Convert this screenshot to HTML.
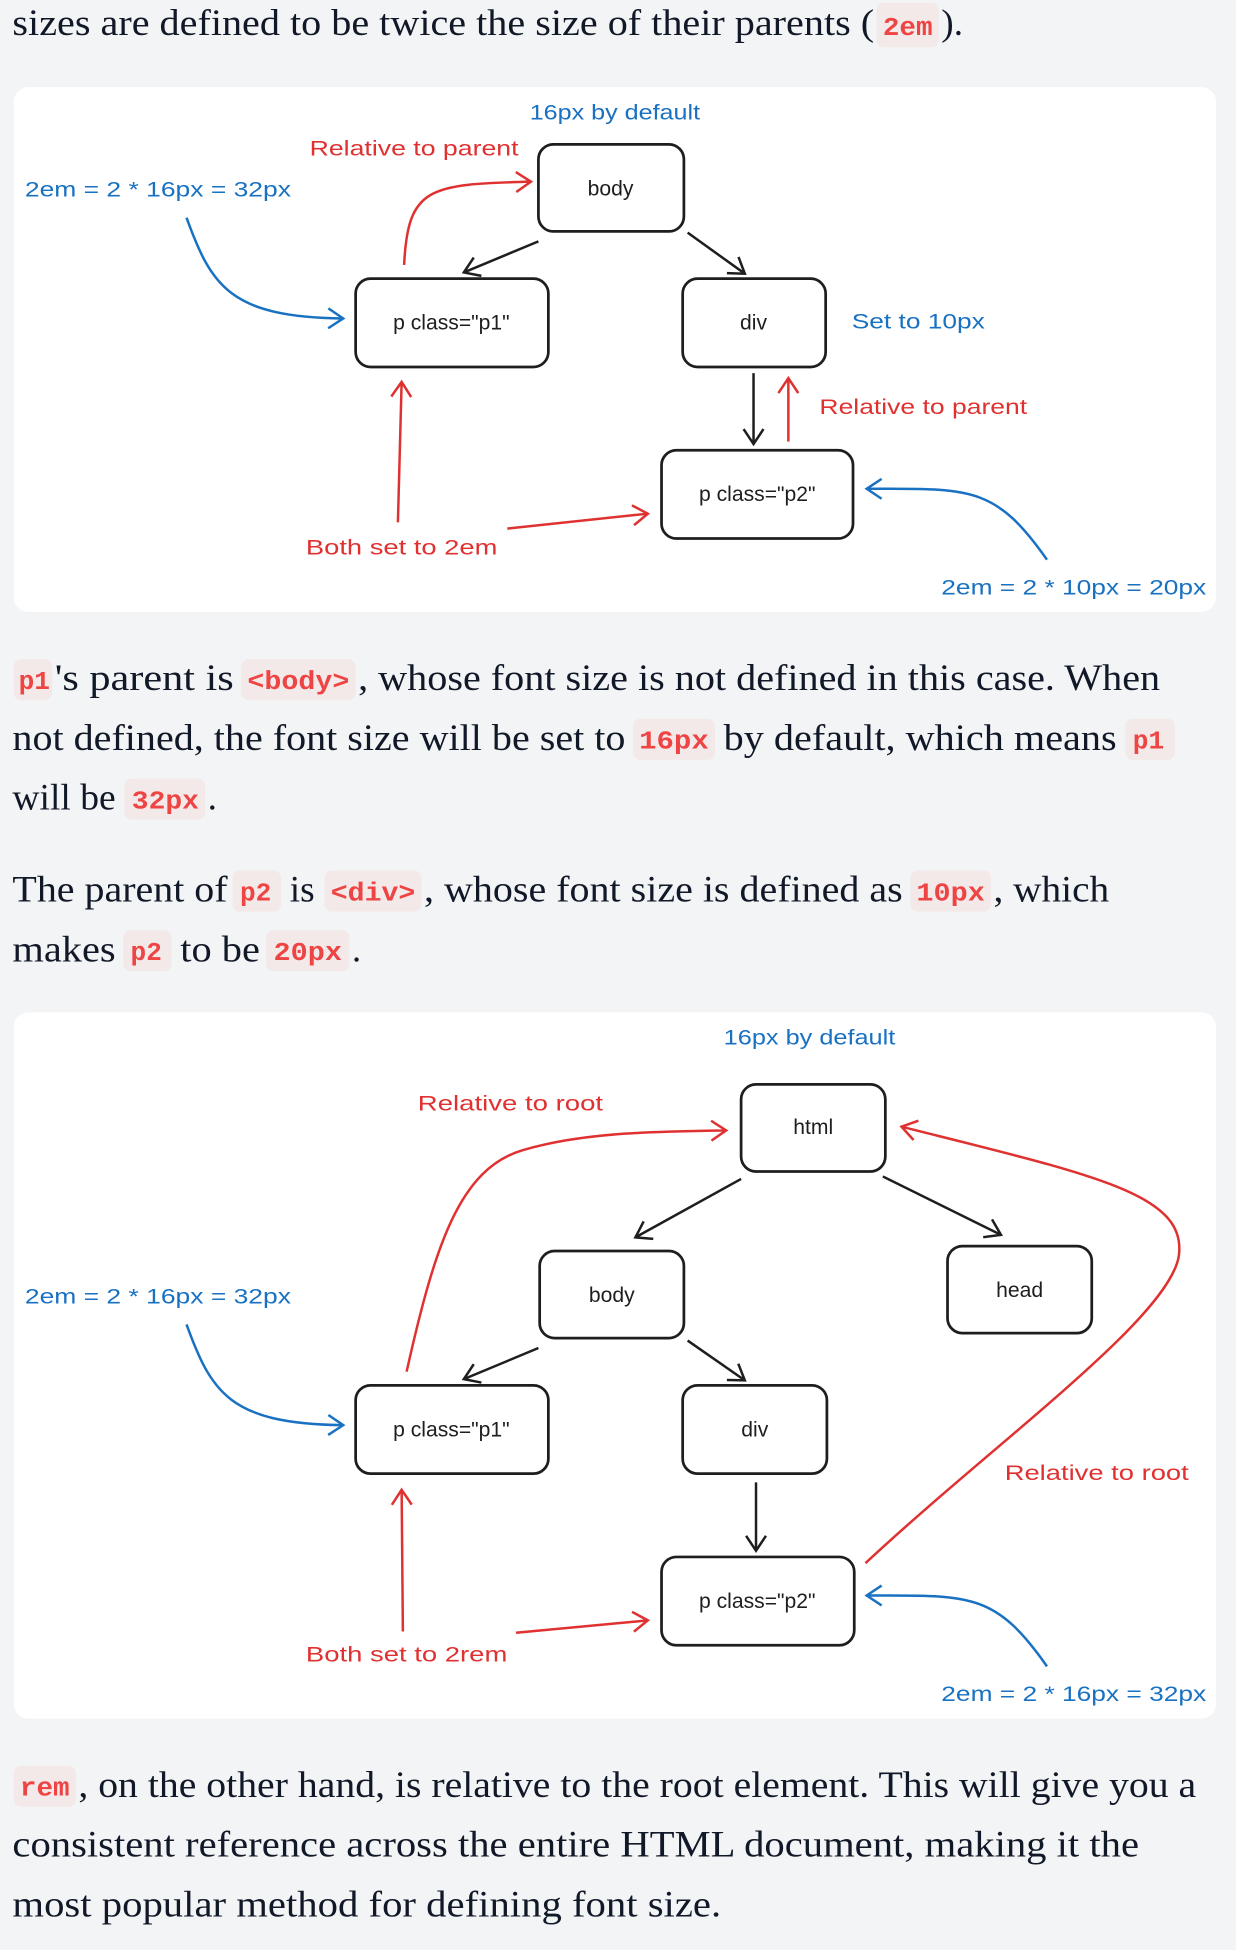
<!DOCTYPE html>
<html><head><meta charset="utf-8"><style>
html,body{margin:0;padding:0;background:#f3f4f6;}
svg{display:block;}
.s{font-family:"Liberation Serif",serif;font-size:30px;fill:#111827;}
.c{font-family:"Liberation Mono",monospace;font-size:21px;font-weight:bold;fill:#ef4444;}
.h{font-family:"Liberation Sans",sans-serif;font-size:17px;}
.b{fill:#1971c2;} .r{fill:#e03131;} .k{fill:#1e1e1e;}
.chip{fill:#f3e9e9;}
.box{fill:#fff;stroke:#1e1e1e;stroke-width:2.2;}
.ak{fill:none;stroke:#1e1e1e;stroke-width:2;}
.ar{fill:none;stroke:#e03131;stroke-width:2;}
.ab{fill:none;stroke:#1971c2;stroke-width:2;}
</style></head><body>
<svg width="1236" height="1950" viewBox="0 0 994 1568" xmlns="http://www.w3.org/2000/svg">
<defs>
<marker id="mk" markerUnits="userSpaceOnUse" markerWidth="30" markerHeight="30" refX="14" refY="10" orient="auto"><path d="M2,2 L14,10 L2,18" fill="none" stroke="#1e1e1e" stroke-width="2"/></marker>
<marker id="mr" markerUnits="userSpaceOnUse" markerWidth="30" markerHeight="30" refX="14" refY="10" orient="auto"><path d="M2,2 L14,10 L2,18" fill="none" stroke="#e03131" stroke-width="2"/></marker>
<marker id="mb" markerUnits="userSpaceOnUse" markerWidth="30" markerHeight="30" refX="14" refY="10" orient="auto"><path d="M2,2 L14,10 L2,18" fill="none" stroke="#1971c2" stroke-width="2"/></marker>
</defs>
<rect width="994" height="1568" fill="#f3f4f6"/>

<!-- top line -->
<text class="s" x="10" y="28" textLength="693" lengthAdjust="spacingAndGlyphs">sizes are defined to be twice the size of their parents (</text>
<rect class="chip" x="705" y="2" width="50" height="36" rx="6"/>
<text class="c" x="710" y="28" textLength="40" lengthAdjust="spacingAndGlyphs">2em</text>
<text class="s" x="757" y="28">).</text>

<!-- panel 1 -->
<rect x="11" y="70" width="967" height="422" rx="12" fill="#fff"/>
<rect class="box" x="433" y="116" width="117" height="70" rx="12"/>
<rect class="box" x="286" y="224" width="155" height="71" rx="12"/>
<rect class="box" x="549" y="224" width="115" height="71" rx="12"/>
<rect class="box" x="532" y="362" width="154" height="71" rx="12"/>
<text class="h k" x="491" y="157" text-anchor="middle">body</text>
<text class="h k" x="363" y="265" text-anchor="middle">p class="p1"</text>
<text class="h k" x="606" y="265" text-anchor="middle">div</text>
<text class="h k" x="609" y="403" text-anchor="middle">p class="p2"</text>
<text class="h b" x="426" y="96" textLength="137" lengthAdjust="spacingAndGlyphs">16px by default</text>
<text class="h r" x="249" y="125" textLength="168" lengthAdjust="spacingAndGlyphs">Relative to parent</text>
<text class="h b" x="20" y="158" textLength="214" lengthAdjust="spacingAndGlyphs">2em = 2 * 16px = 32px</text>
<text class="h b" x="685" y="264" textLength="107" lengthAdjust="spacingAndGlyphs">Set to 10px</text>
<text class="h r" x="659" y="333" textLength="167" lengthAdjust="spacingAndGlyphs">Relative to parent</text>
<text class="h r" x="246" y="446" textLength="154" lengthAdjust="spacingAndGlyphs">Both set to 2em</text>
<text class="h b" x="757" y="478" textLength="213" lengthAdjust="spacingAndGlyphs">2em = 2 * 10px = 20px</text>
<path class="ak" d="M433,194 L373,219" marker-end="url(#mk)"/>
<path class="ak" d="M553,187 L599,220" marker-end="url(#mk)"/>
<path class="ak" d="M606,300 L606,357" marker-end="url(#mk)"/>
<path class="ar" d="M634,355 L634,304" marker-end="url(#mr)"/>
<path class="ar" d="M325,213 C328,150 345,148 427,146" marker-end="url(#mr)"/>
<path class="ab" d="M150,175 C170,230 185,255 276,256" marker-end="url(#mb)"/>
<path class="ar" d="M320,420 L323,307" marker-end="url(#mr)"/>
<path class="ar" d="M408,425 L521,413" marker-end="url(#mr)"/>
<path class="ab" d="M842,450 C800,390 780,393 697,393" marker-end="url(#mb)"/>

<!-- paragraph 1 -->
<rect class="chip" x="11" y="530" width="31" height="33" rx="6"/><text class="c" x="15" y="554">p1</text>
<text class="s" x="44" y="555" textLength="144" lengthAdjust="spacingAndGlyphs">'s parent is</text>
<rect class="chip" x="194" y="530" width="92" height="33" rx="6"/><text class="c" x="199" y="554" textLength="82" lengthAdjust="spacingAndGlyphs">&lt;body&gt;</text>
<text class="s" x="288" y="555" textLength="645" lengthAdjust="spacingAndGlyphs">, whose font size is not defined in this case. When</text>
<text class="s" x="10" y="603" textLength="493" lengthAdjust="spacingAndGlyphs">not defined, the font size will be set to</text>
<rect class="chip" x="509" y="578" width="66" height="33" rx="6"/><text class="c" x="514" y="602" textLength="56" lengthAdjust="spacingAndGlyphs">16px</text>
<text class="s" x="582" y="603" textLength="316" lengthAdjust="spacingAndGlyphs">by default, which means</text>
<rect class="chip" x="905" y="578" width="40" height="33" rx="6"/><text class="c" x="911" y="602">p1</text>
<text class="s" x="10" y="651" textLength="83" lengthAdjust="spacingAndGlyphs">will be</text>
<rect class="chip" x="100" y="626" width="65" height="33" rx="6"/><text class="c" x="106" y="650" textLength="54" lengthAdjust="spacingAndGlyphs">32px</text>
<text class="s" x="167" y="651">.</text>

<text class="s" x="10" y="725" textLength="173" lengthAdjust="spacingAndGlyphs">The parent of</text>
<rect class="chip" x="187" y="700" width="39" height="33" rx="6"/><text class="c" x="193" y="724">p2</text>
<text class="s" x="233" y="725">is</text>
<rect class="chip" x="261" y="700" width="78" height="33" rx="6"/><text class="c" x="266" y="724" textLength="68" lengthAdjust="spacingAndGlyphs">&lt;div&gt;</text>
<text class="s" x="341" y="725" textLength="385" lengthAdjust="spacingAndGlyphs">, whose font size is defined as</text>
<rect class="chip" x="732" y="700" width="65" height="33" rx="6"/><text class="c" x="737" y="724" textLength="55" lengthAdjust="spacingAndGlyphs">10px</text>
<text class="s" x="799" y="725" textLength="93" lengthAdjust="spacingAndGlyphs">, which</text>
<text class="s" x="10" y="773" textLength="83" lengthAdjust="spacingAndGlyphs">makes</text>
<rect class="chip" x="99" y="748" width="39" height="33" rx="6"/><text class="c" x="105" y="772">p2</text>
<text class="s" x="145" y="773" textLength="64" lengthAdjust="spacingAndGlyphs">to be</text>
<rect class="chip" x="214" y="748" width="67" height="33" rx="6"/><text class="c" x="220" y="772" textLength="55" lengthAdjust="spacingAndGlyphs">20px</text>
<text class="s" x="283" y="773">.</text>

<!-- panel 2 -->
<rect x="11" y="814" width="967" height="568" rx="12" fill="#fff"/>
<rect class="box" x="596" y="872" width="116" height="70" rx="12"/>
<rect class="box" x="434" y="1006" width="116" height="70" rx="12"/>
<rect class="box" x="762" y="1002" width="116" height="70" rx="12"/>
<rect class="box" x="286" y="1114" width="155" height="71" rx="12"/>
<rect class="box" x="549" y="1114" width="116" height="71" rx="12"/>
<rect class="box" x="532" y="1252" width="155" height="71" rx="12"/>
<text class="h k" x="654" y="912" text-anchor="middle">html</text>
<text class="h k" x="492" y="1047" text-anchor="middle">body</text>
<text class="h k" x="820" y="1043" text-anchor="middle">head</text>
<text class="h k" x="363" y="1155" text-anchor="middle">p class="p1"</text>
<text class="h k" x="607" y="1155" text-anchor="middle">div</text>
<text class="h k" x="609" y="1293" text-anchor="middle">p class="p2"</text>
<text class="h b" x="582" y="840" textLength="138" lengthAdjust="spacingAndGlyphs">16px by default</text>
<text class="h r" x="336" y="893" textLength="149" lengthAdjust="spacingAndGlyphs">Relative to root</text>
<text class="h b" x="20" y="1048" textLength="214" lengthAdjust="spacingAndGlyphs">2em = 2 * 16px = 32px</text>
<text class="h r" x="808" y="1190" textLength="148" lengthAdjust="spacingAndGlyphs">Relative to root</text>
<text class="h r" x="246" y="1336" textLength="162" lengthAdjust="spacingAndGlyphs">Both set to 2rem</text>
<text class="h b" x="757" y="1368" textLength="213" lengthAdjust="spacingAndGlyphs">2em = 2 * 16px = 32px</text>
<path class="ak" d="M596,948 L511,995" marker-end="url(#mk)"/>
<path class="ak" d="M710,946 L805,993" marker-end="url(#mk)"/>
<path class="ak" d="M433,1084 L373,1109" marker-end="url(#mk)"/>
<path class="ak" d="M553,1078 L599,1110" marker-end="url(#mk)"/>
<path class="ak" d="M608,1192 L608,1247" marker-end="url(#mk)"/>
<path class="ar" d="M327,1103 C350,1000 370,940 420,925 C470,910 530,910 584,909" marker-end="url(#mr)"/>
<path class="ar" d="M696,1257 C800,1160 940,1060 948,1010 C955,960 880,945 725,906" marker-end="url(#mr)"/>
<path class="ab" d="M150,1065 C170,1120 185,1145 276,1146" marker-end="url(#mb)"/>
<path class="ar" d="M324,1312 L323,1198" marker-end="url(#mr)"/>
<path class="ar" d="M415,1313 L521,1303" marker-end="url(#mr)"/>
<path class="ab" d="M842,1340 C800,1280 780,1283 697,1283" marker-end="url(#mb)"/>

<!-- bottom paragraph -->
<rect class="chip" x="11" y="1420" width="50" height="33" rx="6"/><text class="c" x="16" y="1444" textLength="40" lengthAdjust="spacingAndGlyphs">rem</text>
<text class="s" x="63" y="1445" textLength="899" lengthAdjust="spacingAndGlyphs">, on the other hand, is relative to the root element. This will give you a</text>
<text class="s" x="10" y="1493" textLength="906" lengthAdjust="spacingAndGlyphs">consistent reference across the entire HTML document, making it the</text>
<text class="s" x="10" y="1541" textLength="570" lengthAdjust="spacingAndGlyphs">most popular method for defining font size.</text>
</svg>
</body></html>
